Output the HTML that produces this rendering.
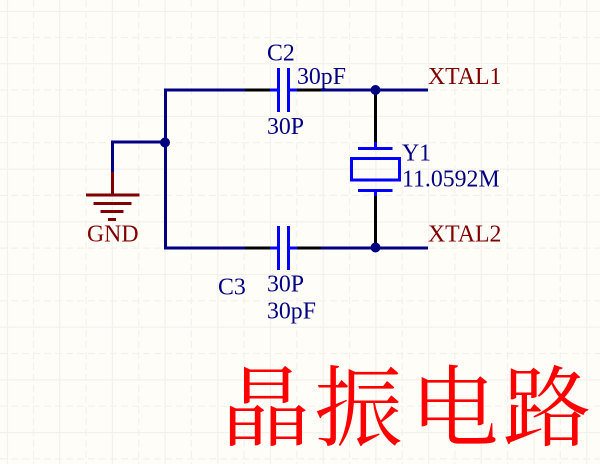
<!DOCTYPE html>
<html><head><meta charset="utf-8"><style>
html,body{margin:0;padding:0;width:600px;height:464px;overflow:hidden;background:#fffdf8}
svg{display:block}
text{font-family:"Liberation Serif",serif;font-size:23.8px}
.n{fill:#000080}.r{fill:#800000}
</style></head><body>
<svg width="600" height="464" viewBox="0 0 600 464" xmlns="http://www.w3.org/2000/svg">
<rect width="600" height="464" fill="#fffdf8"/>
<g stroke="#f3f1eb" stroke-width="1.2" fill="none">
<path d="M7.500 0V464M59.700 0V464M112.400 0V464M165.100 0V464M217.800 0V464M270.500 0V464M323.200 0V464M375.900 0V464M428.600 0V464M481.300 0V464M534 0V464M586.700 0V464"/>
<path d="M0 11.500H600M0 63.700H600M0 116.400H600M0 169.100H600M0 221.800H600M0 274.500H600M0 327.200H600M0 379.900H600M0 432.600H600"/>
<g stroke-dasharray="7 4">
<path d="M33.500 0V464M86 0V464M138.700 0V464M191.400 0V464M244.100 0V464M296.800 0V464M349.500 0V464M402.200 0V464M454.900 0V464M507.600 0V464M560.300 0V464"/>
<path d="M0 37.500H600M0 90H600M0 142.700H600M0 195.400H600M0 248.100H600M0 300.800H600M0 353.500H600M0 406.200H600M0 458.900H600"/>
</g></g>
<g fill="none" stroke-width="3">
<path stroke="#000" d="M245 90H270M297 90H321M245 248H270M297 248H321M375.500 90V143M375.500 196V248"/>
<path stroke="#000080" d="M245 90H165.500V248H245M321 90H428M321 248H428M165 142H112.500V172"/>
<path stroke="#800000" d="M112.500 172V195M86 195H139.500M93.500 203.500H131.500M100.500 211.500H123.500M108 219.500H116"/>
<path stroke="#0000ff" d="M270 90H278M289 90H297M270 248H278M289 248H297M375.500 142V148M375.500 190V196M358 148.500H392.500M358 190.500H392.500M278.500 68V112M288.500 68V112M278.500 226V270M288.500 226V270"/>
<rect x="351.500" y="158.500" width="48" height="21.500" stroke="#0000ff"/>
</g>
<g fill="#000080"><circle cx="165" cy="142.500" r="5"/><circle cx="375.500" cy="90" r="5"/><circle cx="375.500" cy="247.500" r="5"/></g>
<text class="n" x="267" y="60.500">C2</text>
<text class="n" x="297" y="84">30pF</text>
<text class="n" x="267" y="134">30P</text>
<text class="n" x="218" y="294.500">C3</text>
<text class="n" x="267" y="291.500">30P</text>
<text class="n" x="267" y="318.500">30pF</text>
<text class="n" x="402" y="160.500">Y1</text>
<text class="n" x="402" y="186.500">11.0592M</text>
<text class="r" x="428" y="84">XTAL1</text>
<text class="r" x="428" y="241.500">XTAL2</text>
<text class="r" x="87" y="241.500">GND</text>
<text x="222 314.500 410.500 503" y="439" style="font-family:'Liberation Serif','Noto Serif CJK SC',serif;font-size:88px" fill="#ff0000">晶振电路</text>
</svg>
</body></html>
